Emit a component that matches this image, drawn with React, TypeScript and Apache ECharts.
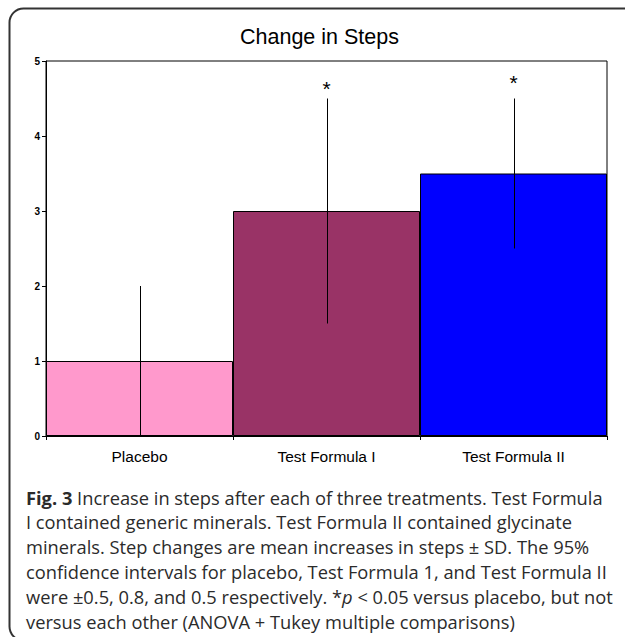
import React, { useEffect, useRef } from "react";
import * as echarts from "echarts";

const categories = ["Placebo", "Test Formula I", "Test Formula II"];
const means = [1, 3, 3.5];
const sds = [1, 1.5, 1];
const barColors = ["#FF99CC", "#993366", "#0000FF"];
const starLevels: (number | null)[] = [null, 4.64, 4.72];
const yTicks = { min: 0, max: 5, interval: 1 };
const title = "Change in Steps";
const captionLines = [
  "{b|Fig. 3} Increase in steps after each of three treatments. Test Formula",
  "I contained generic minerals. Test Formula II contained glycinate",
  "minerals. Step changes are mean increases in steps ± SD. The 95%",
  "confidence intervals for placebo, Test Formula 1, and Test Formula II",
  "were ±0.5, 0.8, and 0.5 respectively. *{i|p} < 0.05 versus placebo, but not",
  "versus each other (ANOVA + Tukey multiple comparisons)",
];

export default function App() {
  const ref = useRef<HTMLDivElement>(null);
  useEffect(() => {
    if (!ref.current) return;
    const chart = echarts.init(ref.current, undefined, { renderer: "svg" });
    const errData = categories.map((_, i) => [i, means[i] - sds[i], means[i] + sds[i]]);
    const starData = categories
      .map((_, i) => (starLevels[i] == null ? null : [i, starLevels[i]]))
      .filter((d) => d != null);
    const captionFont = "'Open Sans', sans-serif";
    const captionColor = "#2b2b2b";
    const captionSize = 18.3;
    const capTop = 497;
    const capStep = 24.8;
    const graphics: any[] = [
      {
        type: "rect",
        silent: true,
        shape: { x: 9.5, y: 8.5, width: 700, height: 632, r: 14 },
        style: { fill: "none", stroke: "#333", lineWidth: 2 },
      },
      ...captionLines.map((line, k) => ({
        type: "text",
        x: 26,
        y: capTop + k * capStep,
        style: {
          text: line,
          fontFamily: captionFont,
          fontSize: captionSize,
          fill: captionColor,
          verticalAlign: "middle",
          rich: {
            b: { fontWeight: "bold", fontFamily: captionFont, fontSize: captionSize, fill: captionColor },
            i: { fontStyle: "italic", fontFamily: captionFont, fontSize: captionSize, fill: captionColor },
          },
        },
      })),
    ];
    chart.setOption({
      animation: false,
      title: {
        text: title,
        left: 235,
        top: 21,
        textStyle: { fontFamily: "Arial, 'Liberation Sans'", fontSize: 21.5, fontWeight: "normal", color: "#000" },
      },
      grid: {
        left: 46,
        right: 18,
        top: 61,
        bottom: 201,
        show: true,
        borderColor: "#000",
        borderWidth: 1,
      },
      xAxis: {
        type: "category",
        data: categories,
        axisLine: { lineStyle: { color: "#000", width: 1 } },
        axisTick: { show: true, length: 4, lineStyle: { color: "#000" } },
        axisLabel: { color: "#000", fontSize: 15.5, fontFamily: "Arial, 'Liberation Sans'", margin: 12 },
      },
      yAxis: {
        type: "value",
        min: yTicks.min,
        max: yTicks.max,
        interval: yTicks.interval,
        splitLine: { show: false },
        axisLine: { show: true, lineStyle: { color: "#000", width: 1 } },
        axisTick: { show: true, length: 4, lineStyle: { color: "#000" } },
        axisLabel: { color: "#000", fontSize: 10, fontWeight: "bold", fontFamily: "Arial, 'Liberation Sans'", margin: 6 },
      },
      series: [
        {
          type: "bar",
          barWidth: "100%",
          barCategoryGap: 0,
          data: means.map((v, i) => ({
            value: v,
            itemStyle: { color: barColors[i], borderColor: "#000", borderWidth: 1 },
          })),
        },
        {
          type: "custom",
          data: errData,
          encode: { x: 0, y: [1, 2] },
          z: 5,
          renderItem: (params: any, api: any) => {
            const x = api.value(0);
            const lo = api.coord([x, api.value(1)]);
            const hi = api.coord([x, api.value(2)]);
            return {
              type: "line",
              shape: { x1: Math.round(lo[0]) + 0.5, y1: lo[1], x2: Math.round(hi[0]) + 0.5, y2: hi[1] },
              style: { stroke: "#000", lineWidth: 1 },
            };
          },
        },
        {
          type: "custom",
          data: starData,
          encode: { x: 0, y: 1 },
          z: 6,
          renderItem: (params: any, api: any) => {
            const p = api.coord([api.value(0), api.value(1)]);
            return {
              type: "text",
              x: p[0],
              y: p[1],
              style: {
                text: "*",
                fontSize: 21,
                fontFamily: "Arial, 'Liberation Sans'",
                fill: "#000",
                align: "center",
                verticalAlign: "middle",
              },
            };
          },
        },
      ],
      graphic: graphics,
    });
    return () => chart.dispose();
  }, []);
  return (
    <div
      ref={ref}
      style={{ position: "fixed", left: 0, top: 0, width: 625, height: 637, background: "#fff" }}
    />
  );
}
